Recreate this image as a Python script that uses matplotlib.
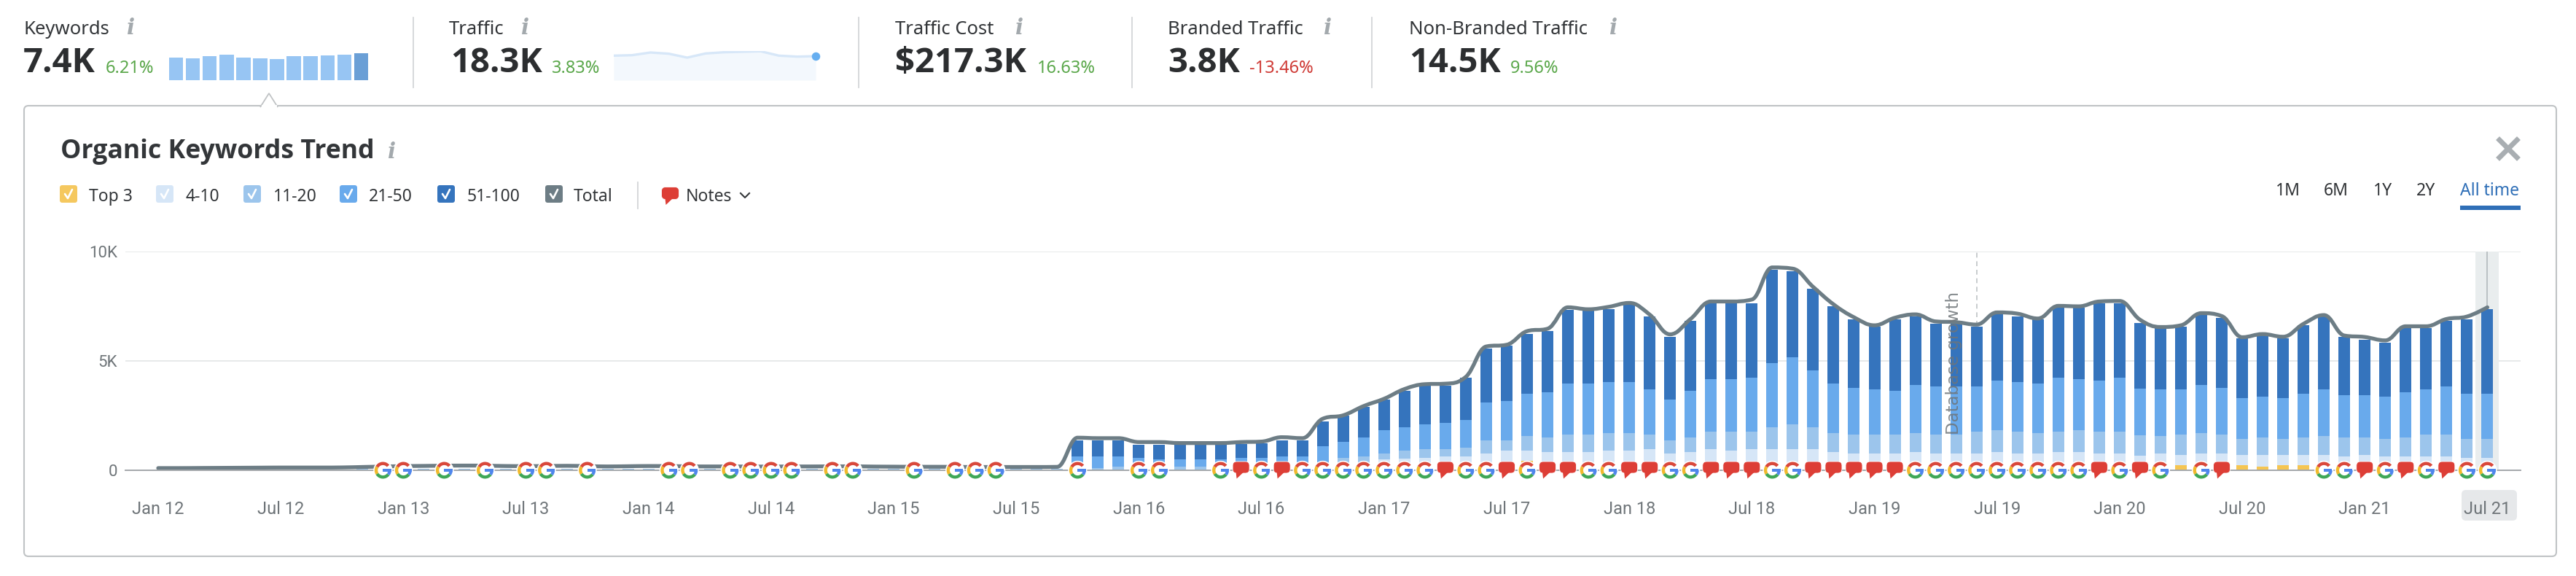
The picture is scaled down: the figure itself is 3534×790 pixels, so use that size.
import numpy as np
import matplotlib
matplotlib.use("Agg")
import matplotlib.pyplot as plt
from matplotlib import font_manager as fm
from matplotlib.patches import Wedge, Circle, Rectangle, FancyBboxPatch, Polygon, PathPatch
from matplotlib.path import Path

W, H = 3534, 790
FONT = "Noto Sans"
plt.rcParams["font.family"] = [FONT, "DejaVu Sans"]
BOLD_FONT = "DejaVu Sans"
for cand in ["Noto Sans", "Open Sans", "Lato", "Roboto", "Inter", "Liberation Sans"]:
    if any(f.name == cand and (f.weight == "bold" or (isinstance(f.weight, int) and f.weight >= 700))
           for f in fm.fontManager.ttflist):
        BOLD_FONT = cand
        break

# ---------- data ----------
top3 = [0]*60 + [156,156,156,156,156,211,211,423] + [211]*31 + [222,211,211,222,156,222,222] + [211]*9
pos4_10 = [0]*57 + [100,156,211,334,389,400,467,467,545,678,467,612,612,612,678,678,745,545,612,745,678,745,745,745,745,612,545,545,545,612,545,545,545,612,545,545,612,612,545,545,467,545,467,545,545,467,534,467,467,478,411,478,411,411,411,411,345,345]
pos11_20 = [0]*10 + [80]*31 + [70,70,70,70] + [100,111,156,100,100,156,156,156,156,156,178,178,278,400,411,267,345,400,334,400,600,467,667,667,801,801,801,801,667,600,667,801,867,801,1001,1134,1001,867,867,867,867,867,867,867,1001,1001,1001,934,934,1001,1001,1001,934,801,934,934,867,734,801,734,801,867,867,801,801,867,1001,1001,867,867]
pos21_50 = [0]*45 + [523,512,467,456,389,334,334,334,400,400,445,445,712,734,867,1068,1068,1134,1201,1268,1735,1801,1935,2068,2335,2335,2335,2335,2068,1868,2135,2402,2402,2469,2936,3069,2602,2268,2135,2068,2002,2202,2202,2202,2068,2268,2268,2268,2469,2335,2335,2469,2135,2135,2068,2202,2135,1868,1868,1868,2002,2135,1935,1935,1935,2068,2068,2202,2068,2068]
pos51_100 = [0]*45 + [756,734,734,623,689,667,667,667,645,667,756,734,1134,1201,1401,1401,1668,1779,1712,1935,2469,2535,2736,2802,3380,3336,3336,3536,3336,2869,3203,3469,3469,3403,4270,3936,3736,3536,3136,2869,3269,3136,2869,2947,2736,3069,3002,2936,3203,3269,3536,3403,3002,2802,2869,3203,3203,2736,2802,2736,3136,3336,2669,2535,2469,2936,2802,3002,3403,3870]
total = [100,100,105,110,115,120,125,125,125,130,150,170,190,200,210,215,210,195,190,195,205,190,175,185,195,190,180,175,175,170,170,175,175,180,180,170,165,160,160,155,150,150,150,150,156,
         1490,1468,1468,1290,1290,1245,1245,1245,1290,1312,1512,1468,2357,2513,2936,3269,3714,3936,3959,4270,5660,5738,6361,6472,7450,7361,7473,7651,7117,6216,6917,7717,7717,7806,9274,9218,8384,7584,6994,6628,6972,7128,6805,6772,6661,7217,7161,6939,7517,7495,7717,7740,6883,6550,6628,7184,7050,6083,6227,6105,6694,7095,6160,6094,5938,6583,6583,6917,7028,7450]
google_updates = [11,12,14,16,18,19,21,25,26,28,29,30,31,33,34,37,39,40,41,45,48,49,52,54,56,57,58,59,60,61,62,64,65,67,70,71,74,75,79,80,86,87,88,89,90,91,92,93,94,96,98,100,106,107,109,111,113,114]
notes = [53,55,63,66,68,69,72,73,76,77,78,81,82,83,84,85,95,97,101,108,110,112]
x_labels = ["Jan 12","Jul 12","Jan 13","Jul 13","Jan 14","Jul 14","Jan 15","Jul 15","Jan 16","Jul 16","Jan 17","Jul 17","Jan 18","Jul 18","Jan 19","Jul 19","Jan 20","Jul 20","Jan 21","Jul 21"]
y_ticks = [0, 5000, 10000]
y_labels = ["0", "5K", "10K"]
database_growth_month = 89
keywords_spark = [6200,6067,6600,7067,6133,6000,5867,6533,6533,6867,6933,7400]
traffic_spark = [18670,19040,21070,20150,17190,20330,21260,21630,22000,18670,17930,18300]

series = [("Top 3", top3, "#f5c552"), ("4-10", pos4_10, "#d6e6f7"), ("11-20", pos11_20, "#9cc5ec"),
          ("21-50", pos21_50, "#69aaec"), ("51-100", pos51_100, "#3574bd")]
months = np.arange(len(total))

fig = plt.figure(figsize=(W/100, H/100), dpi=100, facecolor="white")

def axpx(l, t, r, b, **kw):
    return fig.add_axes([l/W, 1-b/H, (r-l)/W, (b-t)/H], **kw)

# ---------- main chart ----------
X0, DX = 217.0, 28.03
AX_L, AX_R = 172, 3458
ax = axpx(AX_L, 345, AX_R, 645)
ax.set_facecolor("none")
ax.set_xlim((AX_L-X0)/DX, (AX_R-X0)/DX)
ax.set_ylim(0, 10000)
for s in ["top", "right", "left"]:
    ax.spines[s].set_visible(False)
ax.spines["bottom"].set_color("#a4a8ab")
ax.spines["bottom"].set_linewidth(1.4)
ax.spines["bottom"].set_zorder(6)
ax.set_yticks(y_ticks, y_labels, family="Roboto", fontsize=16, color="#6f7579")
ax.set_xticks(months[::6], x_labels, family="Roboto", fontsize=17, color="#6f7579")
ax.tick_params(axis="both", length=0)
ax.tick_params(axis="y", pad=8)
ax.tick_params(axis="x", pad=30)
ax.grid(axis="y", color="#e5e7e8", linewidth=1.3, zorder=0)
ax.set_axisbelow(True)

ax.axvspan(114-0.57, 114+0.57, color="#e9edee", lw=0, zorder=1)
ax.axvline(114, color="#b7bdc0", lw=1.3, zorder=1.5)
ax.axvline(database_growth_month, color="#bfc3c6", lw=1.2, ls=(0, (4, 3)), zorder=1.2)

bottom = np.zeros(len(total))
for name, vals, col in series:
    vals = np.array(vals, float)
    ax.bar(months, vals, bottom=bottom, width=16/DX, color=col, lw=0, zorder=3)
    bottom += vals

# spline through the totals (same construction as a Highcharts spline)
def spline_path(xs, ys, smoothing=1.5):
    verts, codes = [(xs[0], ys[0])], [Path.MOVETO]
    n = len(xs)
    rights = [(xs[0], ys[0])]*n
    lefts = [(xs[-1], ys[-1])]*n
    rights, lefts = list(rights), list(lefts)
    den = smoothing + 1
    for i in range(1, n-1):
        lx = (smoothing*xs[i]+xs[i-1])/den
        ly = (smoothing*ys[i]+ys[i-1])/den
        rx = (smoothing*xs[i]+xs[i+1])/den
        ry = (smoothing*ys[i]+ys[i+1])/den
        c = ((ry-ly)*(rx-xs[i]))/(rx-lx) + ys[i] - ry
        ly += c
        ry += c
        if ly > max(ys[i-1], ys[i]):
            ly = max(ys[i-1], ys[i]); ry = 2*ys[i]-ly
        elif ly < min(ys[i-1], ys[i]):
            ly = min(ys[i-1], ys[i]); ry = 2*ys[i]-ly
        if ry > max(ys[i+1], ys[i]):
            ry = max(ys[i+1], ys[i]); ly = 2*ys[i]-ry
        elif ry < min(ys[i+1], ys[i]):
            ry = min(ys[i+1], ys[i]); ly = 2*ys[i]-ry
        lefts[i], rights[i] = (lx, ly), (rx, ry)
    rights[0] = (xs[0], ys[0])
    lefts[-1] = (xs[-1], ys[-1])
    for i in range(1, n):
        verts += [rights[i-1], lefts[i], (xs[i], ys[i])]
        codes += [Path.CURVE4]*3
    return Path(verts, codes)

ax.add_patch(PathPatch(spline_path(months.astype(float), np.array(total, float)),
                       fc="none", ec="#6d7d85", lw=3.8, capstyle="round", joinstyle="round",
                       zorder=4, clip_on=False))
ax.text(87.9, 8170, "Database growth", rotation=90, ha="center", va="top", family="DejaVu Sans",
        fontsize=16.5, color="#6f7579", alpha=0.85, zorder=5)

for lab in ax.get_xticklabels():
    lab.set_zorder(8)

# ---------- overlay in pixel coordinates ----------
ov = axpx(0, 0, W, H)
ov.set_xlim(0, W)
ov.set_ylim(H, 0)
ov.axis("off")
ov.set_facecolor("none")
ov.set_zorder(5)
ax.set_zorder(6)
ax.patch.set_alpha(0)

# panel with notch
ov.add_patch(FancyBboxPatch((33, 145), 3474, 618, boxstyle="round,pad=0,rounding_size=6",
                            fc="white", ec="#c0c3c5", lw=1.5, zorder=1))
ov.add_patch(Polygon([(357, 147), (369, 128), (381, 147)], closed=False, fc="white", ec="#c0c3c5", lw=1.3, zorder=2))
ov.add_patch(Rectangle((358.5, 144), 21, 4, fc="white", ec="none", zorder=3))

TXT = "#333639"
GREEN = "#5aa74a"
RED = "#cf3a35"

def info(x, y):
    ov.text(x, y, "i", family="DejaVu Serif", style="italic", weight="bold", fontsize=21,
            color="#a3a9ad", ha="center", va="baseline", zorder=5)

def stat(label, value, change, chg_col, lx, vx, cx, ix):
    ov.text(lx, 47, label, fontsize=18.5, color=TXT, va="baseline", zorder=5)
    info(ix, 47)
    ov.text(vx, 99, value, fontsize=34, weight="bold", family=BOLD_FONT, color="#2c2e30", va="baseline", zorder=5)
    ov.text(cx, 100, change, fontsize=17, color=chg_col, va="baseline", zorder=5)

stat("Keywords", "7.4K", "6.21%", GREEN, 32, 32, 145, 180)
stat("Traffic", "18.3K", "3.83%", GREEN, 616, 618, 757, 721)
stat("Traffic Cost", "$217.3K", "16.63%", GREEN, 1228, 1228, 1423, 1399)
stat("Branded Traffic", "3.8K", "-13.46%", RED, 1602, 1602, 1714, 1822)
stat("Non-Branded Traffic", "14.5K", "9.56%", GREEN, 1933, 1933, 2072, 2214)
for sx in [567, 1178, 1553, 1882]:
    ov.plot([sx, sx], [24, 120], color="#d3d6d8", lw=1.3, zorder=2)

# sparklines
a1 = axpx(232, 73, 505, 110)
a1.bar(range(12), keywords_spark, width=0.84,
       color=["#97c5f3"]*11 + ["#6a9fd6"], lw=0)
a1.set_xlim(-0.42, 11.42)
a1.set_ylim(0, 7400)
a1.axis("off")

a2 = axpx(842, 70, 1119, 110)
xs = np.arange(12)
a2.fill_between(xs, traffic_spark, color="#f3f8fd", lw=0)
a2.plot(xs, traffic_spark, color="#d7e7f8", lw=2.4, solid_joinstyle="round")
a2.plot(xs[-1], traffic_spark[-1], "o", ms=8.3, color="#66aef0", mew=0, clip_on=False)
a2.set_xlim(0, 11)
a2.set_ylim(0, 22180)
a2.axis("off")
for a in (a1, a2):
    a.set_zorder(7)

# title
ov.text(83, 217, "Organic Keywords Trend", fontsize=25.7, weight="bold", family=BOLD_FONT, color="#333639", va="baseline", zorder=5)
info(538, 217)

# legend
def check_box(x, col):
    ov.add_patch(FancyBboxPatch((x+2, 256), 20, 20, boxstyle="round,pad=2,rounding_size=3.5", fc=col, ec="none", zorder=5))
    ov.plot([x+7, x+11, x+17], [266, 272, 260], color="white", lw=1.9, solid_capstyle="round", zorder=6)

legend_items = [("Top 3", 82, 122, "#f5c85f"), ("4-10", 214, 254, "#d6e6f7"), ("11-20", 334, 375, "#9cc5ec"),
                ("21-50", 466, 506, "#69aaec"), ("51-100", 600, 641, "#3574bd"), ("Total", 748, 787, "#6d7d85")]
for lab, bx, tx, col in legend_items:
    check_box(bx, col)
    ov.text(tx, 276, lab, fontsize=16.5, color=TXT, va="baseline", zorder=5)
ov.plot([875, 875], [250, 286], color="#d3d6d8", lw=1.3, zorder=5)

def bubble(cx, cy, w, h, col="#dd3e36", zorder=9):
    ov.add_patch(FancyBboxPatch((cx-w/2+4, cy-h/2+4), w-8, h-8, boxstyle="round,pad=4,rounding_size=5.5",
                                fc=col, ec="white", lw=0.6, zorder=zorder))
    ov.add_patch(Polygon([(cx-7, cy+h/2-1), (cx-6, cy+h/2+7.5), (cx+3, cy+h/2-1)], fc=col, ec="none", zorder=zorder))

bubble(919.5, 265, 24, 17)
ov.text(941, 276, "Notes", fontsize=16.5, color=TXT, va="baseline", zorder=5)
ov.plot([1016, 1022, 1028], [265, 271, 265], color=TXT, lw=1.5, zorder=5)

# range buttons
for lab, x, col in [("1M", 3122, "#2f3235"), ("6M", 3188, "#2f3235"), ("1Y", 3256, "#2f3235"),
                    ("2Y", 3315, "#2f3235"), ("All time", 3375, "#2f6fb7")]:
    ov.text(x, 268, lab, fontsize=16.5, color=col, va="baseline", zorder=5)
ov.add_patch(Rectangle((3375, 282), 83, 6, fc="#2f6fb7", ec="none", zorder=5))
ov.plot([3429, 3453], [192, 216], color="#a9aeb2", lw=5, zorder=5)
ov.plot([3429, 3453], [216, 192], color="#a9aeb2", lw=5, zorder=5)

# highlighted last tick label
ov.add_patch(FancyBboxPatch((3381, 676), 68, 34, boxstyle="round,pad=4,rounding_size=6", fc="#e6e8ea", ec="none", zorder=4))

# event markers, placed through the chart's own x scale
ic = axpx(0, 0, W, H)
ic.set_xlim(0, W)
ic.set_ylim(H, 0)
ic.axis("off")
ic.set_zorder(8)
ov = ic
y0 = 645

def to_px(m):
    return ax.transData.transform((m, 0))[0]

def google(cx, cy, r=11.5, t=4.4):
    ic.add_patch(Circle((cx, cy), r+1.6, fc="white", ec="none", zorder=8))
    ring = [(40, 150, "#d9483b"), (150, 212, "#f1b92c"), (212, 322, "#3fa757"), (322, 360, "#4f86ec")]
    for a0, a1_, col in ring:
        # y axis of this overlay points down, so angles are mirrored
        ic.add_patch(Wedge((cx, cy), r, -a1_, -a0, width=t, fc=col, ec="none", zorder=9))
    ic.add_patch(Rectangle((cx, cy-t/2+0.2), r-0.3, t-0.6, fc="#4f86ec", ec="none", zorder=9))

for m in google_updates:
    google(to_px(m), y0)
for m in notes:
    bubble(to_px(m), 641, 23, 16)

fig.savefig("out.png", dpi=100, facecolor="white")
